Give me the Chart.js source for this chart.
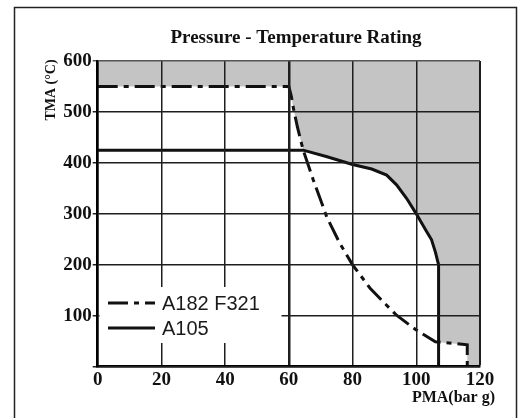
<!DOCTYPE html>
<html>
<head>
<meta charset="utf-8">
<script src="https://cdn.jsdelivr.net/npm/chart.js@4.4.0/dist/chart.umd.min.js"></script>
<style>
  html, body { margin: 0; padding: 0; background: #fff; }
  #wrap { width: 518px; height: 418px; }
</style>
</head>
<body>
<div id="wrap"><canvas id="grafico" width="518" height="418"></canvas></div>
<script>
// Pressure - Temperature rating (PMA bar g vs TMA °C)

const titulo = 'Pressure - Temperature Rating';
const tituloX = 'PMA(bar g)';
const tituloY = 'TMA (°C)';

// A182 F321 (traco-ponto)
const f321P = [0, 60, 60.8, 61.5, 62.7, 64.5, 67.7, 71.9, 76, 80, 85.5, 90, 93.8, 100, 106, 116, 116];
const f321T = [550, 550, 530, 505, 470, 425, 366, 294, 242, 200, 154, 125, 101, 72, 49, 43, 0];

// A105 (linha cheia)
const a105P = [0, 64.5, 72, 80, 86, 90.7, 93.8, 97, 100, 103, 104.8, 106, 107, 107];
const a105T = [425, 425, 412, 397, 388, 376, 357, 330, 300, 268, 249, 225, 200, 0];

// contorno da zona cinza (fora da faixa permitida)
const limiteP = [0, 60, 60.8, 61.5, 62.7, 64.5, 72, 80, 86, 90.7, 93.8, 97, 100, 103, 104.8, 106, 107, 107, 116, 116, 120];
const limiteT = [550, 550, 530, 505, 470, 425, 412, 397, 388, 376, 357, 330, 300, 268, 249, 225, 200, 48, 43, 0, 0];

const ticksX = [0, 20, 40, 60, 80, 100, 120];
const ticksY = [100, 200, 300, 400, 500, 600];

const pontos = (xs, ys) => xs.map((x, i) => ({ x: x, y: ys[i] }));

const serif = '"Liberation Serif", "Times New Roman", serif';

// textos, legenda e moldura
const extras = {
  id: 'extras',
  afterDraw(chart) {
    const ctx = chart.ctx;
    ctx.save();

    // moldura externa
    ctx.strokeStyle = '#222';
    ctx.lineWidth = 1.5;
    ctx.strokeRect(14.5, 7.5, 502, 420);

    // titulo
    ctx.fillStyle = '#111';
    ctx.font = 'bold 19px ' + serif;
    ctx.textAlign = 'center';
    ctx.textBaseline = 'middle';
    ctx.fillText(titulo, 296, 38);

    // titulo eixo x
    ctx.font = 'bold 16px ' + serif;
    ctx.textAlign = 'right';
    ctx.fillText(tituloX, 495, 398);

    // titulo eixo y (rodado)
    ctx.save();
    ctx.translate(51, 90);
    ctx.rotate(-Math.PI / 2);
    ctx.font = 'bold 14px ' + serif;
    ctx.textAlign = 'center';
    ctx.fillText(tituloY, 0, 0);
    ctx.restore();

    // legenda com fundo branco
    ctx.fillStyle = '#fff';
    ctx.fillRect(99.5, 287, 182, 56);
    const linhas = chart.data.datasets.filter(d => d.label);
    linhas.forEach((d, i) => {
      const y = 303 + i * 25;
      ctx.beginPath();
      ctx.setLineDash(d.borderDash || []);
      ctx.lineWidth = d.borderWidth;
      ctx.strokeStyle = d.borderColor;
      ctx.moveTo(108, y);
      ctx.lineTo(155, y);
      ctx.stroke();
      ctx.setLineDash([]);
      ctx.fillStyle = '#1a1a1a';
      ctx.font = '20px "Liberation Sans", Arial, sans-serif';
      ctx.textAlign = 'left';
      ctx.textBaseline = 'middle';
      ctx.fillText(d.label, 162, y + 1);
    });

    ctx.restore();
  }
};

new Chart(document.getElementById('grafico'), {
  type: 'line',
  data: {
    datasets: [
      {
        label: 'A182 F321',
        data: pontos(f321P, f321T),
        borderColor: '#111',
        borderWidth: 3,
        borderDash: [20, 6, 5, 6],
        pointRadius: 0,
        fill: false,
        order: 1
      },
      {
        label: 'A105',
        data: pontos(a105P, a105T),
        borderColor: '#111',
        borderWidth: 3,
        pointRadius: 0,
        fill: false,
        order: 2
      },
      {
        label: '',
        data: pontos(limiteP, limiteT),
        borderWidth: 0,
        borderColor: 'rgba(0,0,0,0)',
        backgroundColor: '#c4c4c4',
        pointRadius: 0,
        fill: 'end',
        order: 3
      }
    ]
  },
  options: {
    responsive: false,
    animation: false,
    layout: { padding: { left: 0, top: 61, right: 38, bottom: 0 } },
    plugins: {
      legend: { display: false },
      tooltip: { enabled: false },
      title: { display: false }
    },
    scales: {
      x: {
        type: 'linear',
        min: 0,
        max: 120,
        afterBuildTicks: s => { s.ticks = ticksX.map(v => ({ value: v })); },
        afterFit: s => { s.height = 51.3; },
        grid: {
          z: 1,
          color: '#1e1e1e',
          lineWidth: c => (c.tick && c.tick.value === 60 ? 2.5 : (c.tick && c.tick.value === 120 ? 2 : 1.5)),
          drawTicks: false
        },
        border: { z: 1, color: '#000', width: 2.5 },
        ticks: {
          padding: 2,
          color: '#111',
          font: { family: serif, size: 19, weight: 'bold' }
        }
      },
      y: {
        type: 'linear',
        min: 0,
        max: 600,
        afterBuildTicks: s => { s.ticks = [0].concat(ticksY).map(v => ({ value: v })); },
        afterFit: s => { s.width = 97.7; },
        grid: {
          z: 1,
          color: c => (c.tick && c.tick.value === 600 ? '#555' : '#1e1e1e'),
          lineWidth: 1.5,
          tickLength: 5
        },
        border: { z: 1, color: '#000', width: 2.5 },
        ticks: {
          padding: 1,
          color: '#111',
          callback: v => (v === 0 ? '' : v),
          font: { family: serif, size: 19, weight: 'bold' }
        }
      }
    }
  },
  plugins: [extras]
});
</script>
</body>
</html>
